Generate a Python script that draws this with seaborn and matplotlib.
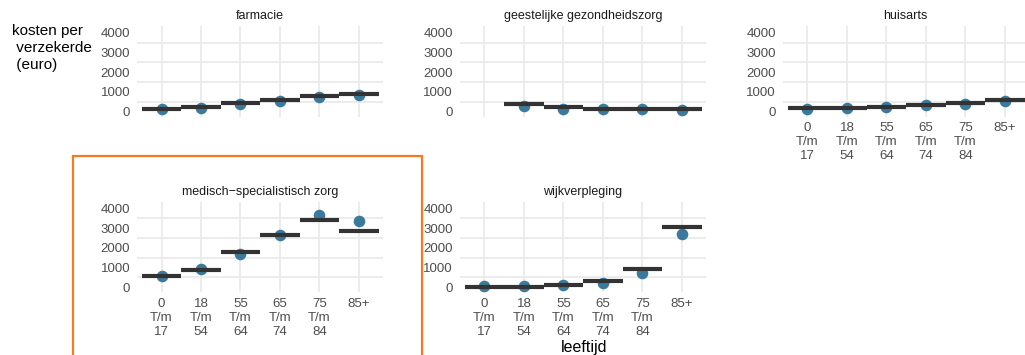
import numpy as np
import pandas as pd
import seaborn as sns
import matplotlib.pyplot as plt
from matplotlib.patches import Rectangle

# leeftijdsklassen en zorgsoorten
leeftijden = ["0\nT/m\n17", "18\nT/m\n54", "55\nT/m\n64", "65\nT/m\n74", "75\nT/m\n84", "85+"]
zorgsoorten = ["farmacie", "geestelijke gezondheidszorg", "huisarts",
               "medisch\u2212specialistisch zorg", "wijkverpleging"]

# waargenomen kosten (punten) en modelwaarden (streepjes), euro per verzekerde
farmacie_obs = [110, 190, 380, 565, 750, 870]
farmacie_model = [145, 220, 440, 600, 805, 905]
ggz_obs = [np.nan, 280, 160, 110, 110, 75]
ggz_model = [np.nan, 365, 245, 145, 145, 125]
huisarts_obs = [160, 195, 245, 315, 410, 545]
huisarts_model = [170, 170, 255, 345, 440, 570]
msz_obs = [570, 915, 1705, 2640, 3665, 3345]
msz_model = [585, 880, 1810, 2670, 3410, 2840]
wijk_obs = [50, 50, 105, 225, 740, 2690]
wijk_model = [15, 15, 140, 295, 915, 3070]

y_ticks = [0, 1000, 2000, 3000, 4000]
y_grid = [500, 1500, 2500, 3500]

obs = [farmacie_obs, ggz_obs, huisarts_obs, msz_obs, wijk_obs]
model = [farmacie_model, ggz_model, huisarts_model, msz_model, wijk_model]

rows = []
for zorg, o, m in zip(zorgsoorten, obs, model):
    for i, lft in enumerate(leeftijden):
        rows.append({"zorg": zorg, "leeftijd": lft, "pos": i, "kosten": o[i], "model": m[i]})
df = pd.DataFrame(rows).dropna()

sns.set_theme(style="white")
plt.rcParams["font.family"] = ["Liberation Sans", "DejaVu Sans"]

fig = plt.figure(figsize=(10.25, 3.55), dpi=100)

# paneelposities (links, onder, breedte, hoogte) in figuurfracties
lefts = [0.1337, 0.4488, 0.7639]
bottoms = [0.671, 0.1763]
w, h = 0.2395, 0.2555
panels = [(0, 0, False), (0, 1, False), (0, 2, True), (1, 0, True), (1, 1, True)]

dot_color = "#3B7A9C"
for zorg, (r, c, show_x) in zip(zorgsoorten, panels):
    ax = fig.add_axes([lefts[c], bottoms[r], w, h])
    sub = df[df["zorg"] == zorg]
    sns.scatterplot(data=sub, x="pos", y="kosten", ax=ax, color=dot_color,
                    s=70, linewidth=0, zorder=3, legend=False)
    ax.hlines(sub["model"], sub["pos"] - 0.5, sub["pos"] + 0.5,
              color="#333333", linewidth=3, zorder=4)

    ax.set_xlim(-0.62, 5.6)
    ax.set_ylim(-260, 4340)
    ax.set_xticks(range(len(leeftijden)))
    if show_x:
        ax.set_xticklabels(leeftijden, linespacing=1.2)
    else:
        ax.set_xticklabels([])
    ax.set_yticks(y_ticks)
    ax.set_yticklabels([str(v) for v in y_ticks])
    ax.set_yticks(y_grid, minor=True)
    ax.grid(False)
    ax.xaxis.grid(True, which="major", color="#EBEBEB", linewidth=1.3)
    ax.yaxis.grid(True, which="minor", color="#EBEBEB", linewidth=1.3)
    ax.set_axisbelow(True)
    ax.tick_params(axis="both", which="both", length=0, labelsize=9.5, labelcolor="#4D4D4D")
    ax.tick_params(axis="y", pad=5)
    ax.tick_params(axis="x", pad=4)
    for s in ax.spines.values():
        s.set_visible(False)
    ax.set_xlabel("")
    ax.set_ylabel("")
    ax.set_title(zorg, fontsize=9, color="#1A1A1A", pad=5)

fig.text(12 / 1025, 1 - 24 / 355, "kosten per\n verzekerde\n (euro)", fontsize=11,
         ha="left", va="top", color="black", linespacing=1.25)
fig.text(584 / 1025, 1 - 352 / 355, "leeftijd", fontsize=11.5, ha="center", va="baseline",
         color="black")

# oranje kader rond medisch-specialistische zorg
fig.patches.append(Rectangle((72.7 / 1025, -0.05), (421.7 - 72.7) / 1025, 1 - 156 / 355 + 0.05,
                             transform=fig.transFigure, fill=False, edgecolor="#F47B20",
                             linewidth=1.6))

fig.savefig("out.png", dpi=100)
